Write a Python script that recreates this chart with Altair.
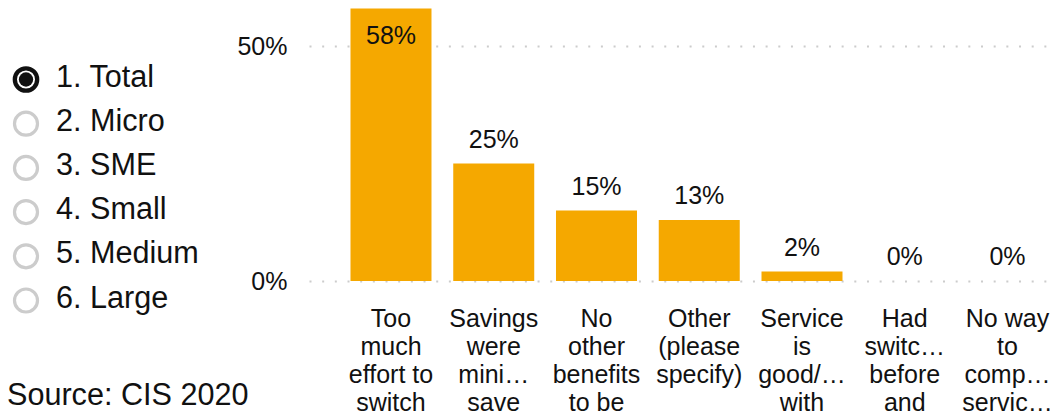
import json
import altair as alt
import pandas as pd

# ---- data ----
categories = [
    "Too much effort to switch",
    "Savings were mini… save",
    "No other benefits to be",
    "Other (please specify)",
    "Service is good/… with",
    "Had switc… before and",
    "No way to comp… servic…",
]
label_lines = [
    ["Too", "much", "effort to", "switch"],
    ["Savings", "were", "mini…", "save"],
    ["No", "other", "benefits", "to be"],
    ["Other", "(please", "specify)"],
    ["Service", "is", "good/…", "with"],
    ["Had", "switc…", "before", "and"],
    ["No way", "to", "comp…", "servic…"],
]
values = [58, 25, 15, 13, 2, 0, 0]
options = ["1. Total", "2. Micro", "3. SME", "4. Small", "5. Medium", "6. Large"]
selected = "1. Total"
source = "Source: CIS 2020"
y_ticks = [0, 50]

FONT = "Liberation Sans"
TEXT = "#111111"
BAR = "#F5A800"

bars_df = pd.DataFrame({"category": categories, "value": values})
opt_df = pd.DataFrame({"option": options, "selected": [o == selected for o in options]})

label_expr = (
    json.dumps(label_lines, ensure_ascii=False)
    + "[indexof("
    + json.dumps(categories, ensure_ascii=False)
    + ", datum.label)]"
)

xenc = alt.X(
    "category:N",
    sort=categories,
    title=None,
    scale=alt.Scale(paddingInner=0.2117, paddingOuter=0.2019, align=1),
    axis=alt.Axis(
        labelAngle=0,
        labelFontSize=25,
        labelLineHeight=28,
        labelPadding=25,
        labelColor=TEXT,
        labelFont=FONT,
        domain=False,
        ticks=False,
        labelLimit=300,
        labelOverlap=False,
        labelExpr=label_expr,
    ),
)
yenc = alt.Y(
    "value:Q",
    title=None,
    scale=alt.Scale(domain=[0, 59.79], nice=False),
    axis=alt.Axis(
        values=y_ticks,
        labelExpr="datum.value + '%'",
        labelFontSize=25,
        labelFont=FONT,
        labelColor=TEXT,
        labelPadding=22,
        ticks=False,
        domain=False,
        grid=True,
        gridColor="#cccccc",
        gridDash=[2, 10.67],
        gridWidth=2,
    ),
)

bars = alt.Chart(bars_df).mark_bar(color=BAR).encode(x=xenc, y=yenc)

above = (
    alt.Chart(bars_df)
    .transform_filter("datum.value < 50")
    .transform_calculate(label="datum.value + '%'")
    .mark_text(baseline="alphabetic", dy=-16, fontSize=25, font=FONT, color=TEXT)
    .encode(x=alt.X("category:N", sort=categories), y=alt.Y("value:Q"), text="label:N")
)
inside = (
    alt.Chart(bars_df)
    .transform_filter("datum.value >= 50")
    .transform_calculate(label="datum.value + '%'")
    .mark_text(baseline="alphabetic", dy=36, fontSize=25, font=FONT, color=TEXT)
    .encode(x=alt.X("category:N", sort=categories), y=alt.Y("value:Q"), text="label:N")
)

right = alt.layer(bars, above, inside).properties(width=739, height=281)

ypos = alt.Y("option:N", sort=options, axis=None,
             scale=alt.Scale(type="point", range=[79.5, 300.5], padding=0))

ring_unsel = (
    alt.Chart(opt_df)
    .transform_filter("!datum.selected")
    .mark_point(shape="circle", filled=False, size=530, strokeWidth=3.2, color="#cccccc", opacity=1)
    .encode(x=alt.value(26), y=ypos)
)
ring_sel = (
    alt.Chart(opt_df)
    .transform_filter("datum.selected")
    .mark_point(shape="circle", filled=False, size=500, strokeWidth=4.3, color=TEXT, opacity=1)
    .encode(x=alt.value(26), y=ypos)
)
dot_sel = (
    alt.Chart(opt_df)
    .transform_filter("datum.selected")
    .mark_point(shape="circle", filled=True, size=205, color=TEXT, opacity=1)
    .encode(x=alt.value(26), y=ypos)
)
opt_text = (
    alt.Chart(opt_df)
    .mark_text(align="left", baseline="middle", fontSize=30.6, font=FONT, color=TEXT, dy=-2)
    .encode(x=alt.value(56), y=ypos, text="option:N")
)

left = alt.layer(ring_unsel, ring_sel, dot_sel, opt_text).properties(
    width=280,
    height=376,
    title=alt.TitleParams(
        source, orient="bottom", anchor="start", fontSize=30.6, font=FONT,
        fontWeight="normal", color=TEXT, offset=5, dx=7,
    ),
)

chart = (
    alt.hconcat(left, right, spacing=29, bounds="flush")
    .properties(padding=0)
    .configure(font=FONT)
    .configure_view(strokeWidth=0, stroke="transparent")
)

chart.save("out.html", embed_options={"renderer": "svg", "actions": False})
